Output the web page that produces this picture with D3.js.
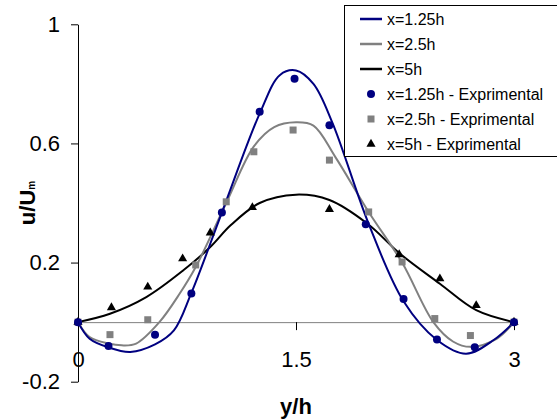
<!DOCTYPE html>
<html>
<head>
<meta charset="utf-8">
<script src="https://cdn.jsdelivr.net/npm/d3@7"></script>
<style>
body { margin: 0; background: #fff; }
text { font-family: Arial, "Liberation Sans", sans-serif; fill: #000; }
</style>
</head>
<body>
<svg id="chart" width="557" height="420"></svg>
<script>
// curves, [y/h, u/Um]
var curve125 = [[0,0],[0.08,-0.056],[0.21,-0.085],[0.36,-0.10],[0.53,-0.075],[0.66,-0.028],[0.78,0.098],[0.99,0.368],
    [1.25,0.70],[1.39,0.83],[1.5,0.845],[1.62,0.80],[1.75,0.67],[2.0,0.33],[2.24,0.07],[2.47,-0.06],[2.67,-0.106],[2.86,-0.06],[3,0]];
var curve25 = [[0,0],[0.08,-0.05],[0.21,-0.072],[0.30,-0.078],[0.40,-0.072],[0.56,0],[0.70,0.096],[0.81,0.185],[1.02,0.40],
    [1.21,0.59],[1.35,0.655],[1.5,0.671],[1.62,0.66],[1.77,0.555],[2.0,0.37],[2.23,0.20],[2.445,0],[2.58,-0.065],[2.70,-0.083],[2.88,-0.056],[3,0]];
var curve5 = [[0,0],[0.22,0.028],[0.47,0.084],[0.725,0.174],[0.91,0.252],[1.05,0.325],[1.25,0.40],[1.5,0.428],[1.73,0.41],
    [1.99,0.331],[2.22,0.228],[2.49,0.129],[2.74,0.040],[3,0]];

// experimental points
var exp125 = [[0,0],[0.21,-0.080],[0.53,-0.042],[0.78,0.096],[0.99,0.368],[1.25,0.706],[1.49,0.817],[1.73,0.661],
    [1.98,0.329],[2.24,0.078],[2.47,-0.058],[2.73,-0.084],[3,0]];
var exp25 = [[0,0],[0.22,-0.042],[0.48,0.008],[0.81,0.192],[1.02,0.404],[1.21,0.572],[1.48,0.645],[1.73,0.544],
    [2.0,0.370],[2.23,0.202],[2.455,0.012],[2.70,-0.045],[3,0]];
var exp5 = [[0,0],[0.23,0.049],[0.48,0.118],[0.72,0.213],[0.91,0.30],[1.2,0.385],[1.73,0.379],[2.21,0.227],
    [2.49,0.146],[2.74,0.056],[3,0]];

var xTicks = [0, 1.5, 3];
var xTickLabels = ["0", "1.5", "3"];
var yTicks = [-0.2, 0.2, 0.6, 1];
var yTickLabels = ["-0.2", "0.2", "0.6", "1"];
var legendNames = ["x=1.25h", "x=2.5h", "x=5h", "x=1.25h - Exprimental", "x=2.5h - Exprimental", "x=5h - Exprimental"];

var navy = "#000080", gray = "#808080";

var svg = d3.select("#chart");
var x = d3.scaleLinear().domain([0, 3]).range([78, 514]);
var y = d3.scaleLinear().domain([-0.2, 1]).range([381.7, 24.3]);

/* y axis */
var yAxis = svg.append("g")
    .attr("transform", "translate(78,0)")
    .call(d3.axisLeft(y).tickValues(yTicks).tickSize(7).tickSizeOuter(0).tickPadding(11)
        .tickFormat(function(d, i){ return yTickLabels[i]; }));
yAxis.selectAll("text").style("font-size", "22px").attr("fill", "#000");
yAxis.select(".domain").attr("stroke", "#000");

/* x axis sits on the zero line */
var xAxis = svg.append("g")
    .attr("transform", "translate(0," + y(0) + ")")
    .call(d3.axisBottom(x).tickValues(xTicks).tickSize(8).tickSizeOuter(0).tickPadding(21)
        .tickFormat(function(d, i){ return xTickLabels[i]; }));
xAxis.selectAll("text").style("font-size", "22px").attr("fill", "#000");
xAxis.select(".domain").attr("stroke", gray);

// axis titles
svg.append("text")
    .attr("transform", "translate(35,203) rotate(-90)")
    .attr("text-anchor", "middle")
    .style("font-size", "22px").style("font-weight", "bold")
    .text("u/U")
    .append("tspan").style("font-size", "10px").text("m");

svg.append("text")
    .attr("x", 296).attr("y", 414)
    .attr("text-anchor", "middle")
    .style("font-size", "22px").style("font-weight", "bold")
    .text("y/h");

// lines
var line = d3.line()
    .x(function(d){ return x(d[0]); })
    .y(function(d){ return y(d[1]); })
    .curve(d3.curveCatmullRom);

var curves = [{data: curve5, color: "#000"}, {data: curve25, color: gray}, {data: curve125, color: navy}];
curves.forEach(function(c){
    svg.append("path").datum(c.data)
        .attr("d", line)
        .attr("fill", "none")
        .attr("stroke", c.color)
        .attr("stroke-width", 2);
});

// markers
svg.append("g").selectAll("rect").data(exp25).join("rect")
    .attr("x", function(d){ return x(d[0]) - 3.5; })
    .attr("y", function(d){ return y(d[1]) - 3.5; })
    .attr("width", 7).attr("height", 7)
    .attr("fill", gray);

var tri = d3.symbol().type(d3.symbolTriangle).size(36);
svg.append("g").selectAll("path").data(exp5).join("path")
    .attr("d", tri)
    .attr("transform", function(d){ return "translate(" + x(d[0]) + "," + y(d[1]) + ")"; })
    .attr("fill", "#000");

svg.append("g").selectAll("circle").data(exp125).join("circle")
    .attr("cx", function(d){ return x(d[0]); })
    .attr("cy", function(d){ return y(d[1]); })
    .attr("r", 4)
    .attr("fill", navy);

/* legend */
var legend = svg.append("g");
legend.append("rect")
    .attr("x", 344.5).attr("y", 5.5)
    .attr("width", 230).attr("height", 151)
    .attr("fill", "#fff").attr("stroke", "#000");

var rowY = d3.scalePoint().domain(d3.range(legendNames.length)).range([19, 144]);
var legendColors = [navy, gray, "#000", navy, gray, "#000"];

legendNames.forEach(function(name, i){
    var cy = rowY(i);
    if (i < 3){
        legend.append("line")
            .attr("x1", 360).attr("x2", 382).attr("y1", cy).attr("y2", cy)
            .attr("stroke", legendColors[i]).attr("stroke-width", 2.5);
    }else if (i == 3){
        legend.append("circle").attr("cx", 371).attr("cy", cy).attr("r", 4).attr("fill", navy);
    }else if (i == 4){
        legend.append("rect").attr("x", 367.5).attr("y", cy - 3.5).attr("width", 7).attr("height", 7).attr("fill", gray);
    }else{
        legend.append("path").attr("d", tri).attr("transform", "translate(371," + cy + ")").attr("fill", "#000");
    }
    legend.append("text")
        .attr("x", 387).attr("y", cy).attr("dy", "0.35em")
        .style("font-size", "16px")
        .text(name);
});
</script>
</body>
</html>
